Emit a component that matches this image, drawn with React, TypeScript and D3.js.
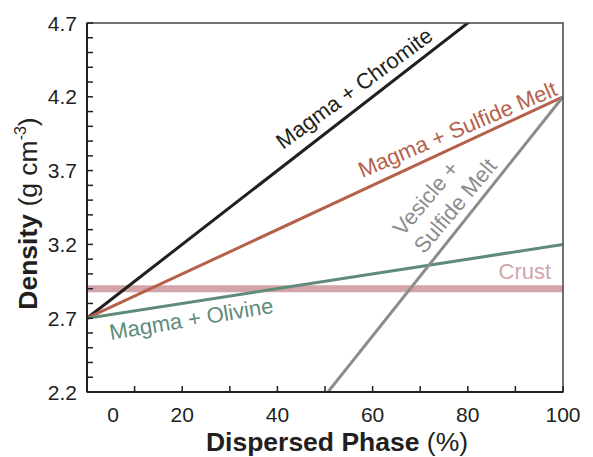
import * as d3 from "d3";

// dispersed phase (%) at the two ends of each mixing line
const phase = [0, 100];
const chromite = [2.7, 5.2];
const sulfide = [2.7, 4.2];
const olivine = [2.7, 3.2];
const vesicle = [0.15, 4.2];
const crust = 2.9;

const xMajor = [0, 20, 40, 60, 80, 100];
const xMinor = [10, 30, 50, 70, 90];
const yMajor = [2.2, 2.7, 3.2, 3.7, 4.2, 4.7];
const yMinor = [2.3, 2.4, 2.5, 2.6, 2.8, 2.9, 3.0, 3.1, 3.3, 3.4, 3.5, 3.6, 3.8, 3.9, 4.0, 4.1, 4.3, 4.4, 4.5, 4.6];

const FONT = "'Liberation Sans', Arial, sans-serif";
const INK = "#231f20";

const App = () => {
  const width = 593;
  const height = 457;
  const marginLeft = 87;
  const marginRight = 30;
  const marginTop = 23;
  const marginBottom = 65;

  const x = d3.scaleLinear([0, 100], [marginLeft, width - marginRight]);
  const y = d3.scaleLinear([2.2, 4.7], [height - marginBottom, marginTop]);
  const line = d3.line<number>((d, i) => x(phase[i]), (d) => y(d));

  const angleOf = (vals: number[]) => {
    const dx = x(phase[1]) - x(phase[0]);
    const dy = y(vals[1]) - y(vals[0]);
    return (Math.atan2(dy, dx) * 180) / Math.PI;
  };

  const series = [
    { name: "chromite", vals: chromite, color: INK },
    { name: "sulfide", vals: sulfide, color: "#b5614a" },
    { name: "olivine", vals: olivine, color: "#5f8b79" },
    { name: "vesicle", vals: vesicle, color: "#8c8c8c" },
  ];

  const labels = [
    { text: "Magma + Chromite", px: 41.2, py: 3.84, angle: angleOf(chromite) + 1.5, color: INK },
    { text: "Magma + Sulfide Melt", px: 57.8, py: 3.65, angle: -23, color: "#b5614a" },
    { text: "Magma + Olivine", px: 5, py: 2.552, angle: -9.5, color: "#5f8b79" },
    { text: "Vesicle +", px: 66.4, py: 3.25, angle: -50, color: "#8c8c8c" },
    { text: "Sulfide Melt", px: 70.8, py: 3.13, angle: -50, color: "#8c8c8c" },
  ];

  return (
    <svg
      width={width}
      height={height}
      style={{ position: "absolute", left: 0, top: 0, background: "#fff" }}
      fontFamily={FONT}
    >
      <defs>
        <clipPath id="plot">
          <rect
            x={marginLeft}
            y={marginTop}
            width={width - marginLeft - marginRight}
            height={height - marginTop - marginBottom}
          />
        </clipPath>
      </defs>

      <g clipPath="url(#plot)">
        <line
          x1={x(0)}
          x2={x(100)}
          y1={y(crust)}
          y2={y(crust)}
          stroke="#d3a4aa"
          strokeWidth={7}
        />
        {series.map((s) => (
          <path key={s.name} d={line(s.vals)!} fill="none" stroke={s.color} strokeWidth={3} />
        ))}
      </g>

      {/* frame */}
      <rect
        x={marginLeft}
        y={marginTop}
        width={width - marginLeft - marginRight}
        height={height - marginTop - marginBottom}
        fill="none"
        stroke="#444"
        strokeWidth={1.5}
      />
      <line x1={x(0)} x2={x(0)} y1={y(2.2)} y2={y(4.7)} stroke={INK} strokeWidth={2} />
      <line x1={x(0)} x2={x(100)} y1={y(2.2)} y2={y(2.2)} stroke={INK} strokeWidth={2} />

      {/* ticks */}
      <g stroke={INK} strokeWidth={1.5}>
        {[...yMajor, ...yMinor].map((v) => (
          <line key={"y" + v} x1={x(0)} x2={x(0) + 6} y1={y(v)} y2={y(v)} />
        ))}
        {[...xMajor, ...xMinor].map((v) => (
          <line key={"x" + v} x1={x(v)} x2={x(v)} y1={y(2.2)} y2={y(2.2) - 6} />
        ))}
      </g>
      <g fontSize={21} fill={INK}>
        {yMajor.map((v) => (
          <text key={v} x={x(0) - 10} y={y(v)} textAnchor="end" dominantBaseline="central">
            {v.toFixed(1)}
          </text>
        ))}
        {xMajor.map((v) => (
          <text key={v} x={x(v) + (v === 0 ? 26 : 0)} y={y(2.2) + 30} textAnchor="middle">
            {v}
          </text>
        ))}
      </g>

      {/* axis titles */}
      <text x={337} y={451} textAnchor="middle" fontSize={26.5} fill={INK}>
        <tspan fontWeight="bold">Dispersed Phase</tspan> (%)
      </text>
      <text
        transform={`translate(37, ${(y(2.2) + y(4.7)) / 2 + 6}) rotate(-90)`}
        textAnchor="middle"
        fontSize={26.5}
        fill={INK}
      >
        <tspan fontWeight="bold">Density</tspan> (g cm
        <tspan fontSize={16} dy={-11}>-3</tspan>
        <tspan dy={11}>)</tspan>
      </text>

      {/* line labels */}
      <g fontSize={22}>
        {labels.map((l) => (
          <text
            key={l.text}
            transform={`translate(${x(l.px)}, ${y(l.py)}) rotate(${l.angle})`}
            fill={l.color}
          >
            {l.text}
          </text>
        ))}
        <text x={x(97.5)} y={y(2.966)} textAnchor="end" fill="#d3a4aa">
          Crust
        </text>
      </g>
    </svg>
  );
};

export default App;
